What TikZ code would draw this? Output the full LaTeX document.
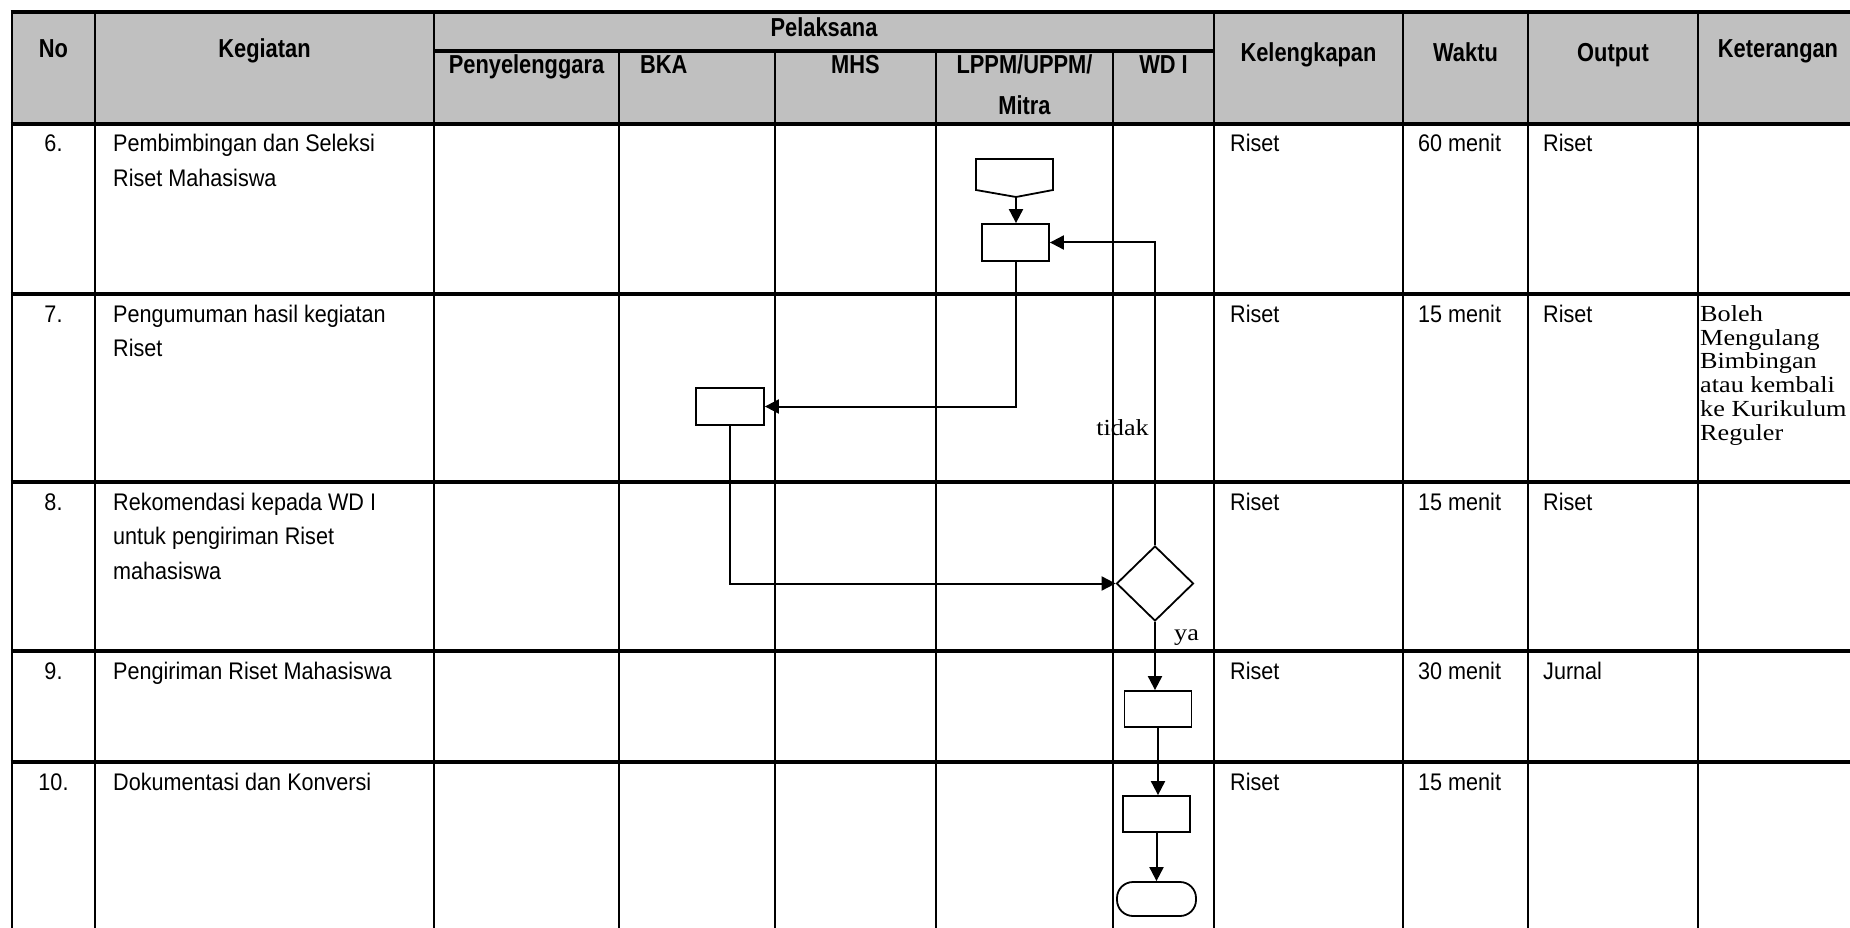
\documentclass[tikz,border=0pt]{standalone}
\usepackage{fontspec}
\setmainfont{Liberation Sans}
\newfontfamily\bodyfont[FakeStretch=0.9]{Liberation Sans}
\newfontfamily\hdrfont[FakeStretch=0.84]{Liberation Sans}
\newfontfamily\seriffont[FakeStretch=1.14]{Liberation Serif}
\usetikzlibrary{arrows.meta,shapes.geometric}
\definecolor{hdrgray}{RGB}{192,192,192}
\begin{document}
\begin{tikzpicture}[x=1pt,y=-1pt,
  hline/.style={line width=3.2pt},
  vline/.style={line width=2.2pt},
  hdr/.style={font=\hdrfont\bfseries\fontsize{26}{30}\selectfont, inner sep=0pt, anchor=base},
  txt/.style={font=\bodyfont\fontsize{24}{30}\selectfont, inner sep=0pt, anchor=base west},
  num/.style={font=\bodyfont\fontsize{24}{30}\selectfont, inner sep=0pt, anchor=base},
  ser/.style={font=\seriffont\fontsize{23}{24}\selectfont, inner sep=0pt},
  box/.style={draw, line width=1.8pt, minimum width=67pt, minimum height=37pt, inner sep=0pt},
  flow/.style={line width=2pt},
  arr/.style={flow, -{Triangle[length=14pt,width=14pt]}},
]
\useasboundingbox (0,0) rectangle (1850,928);
\clip (0,0) rectangle (1850,928);

% header background
\fill[hdrgray] (12,12) rectangle (1860,124);

% grid
\foreach \y in {12,124,294,482,651,762} \draw[hline] (10.5,\y) -- (1860,\y);
\draw[hline] (434,51) -- (1214,51);
\foreach \x in {12,95,434,1214,1403,1528,1698} \draw[vline] (\x,12) -- (\x,930);
\foreach \x in {619,775,936,1113} \draw[vline] (\x,51) -- (\x,930);

% header texts
\node[hdr] (hNo) at (53.5,58) {No};
\node[hdr] (hKeg) at (264.5,58) {Kegiatan};
\node[hdr] (hPel) at (824,37) {Pelaksana};
\node[hdr] (hPen) at (526.5,74) {Penyelenggara};
\node[hdr, anchor=base west] (hBKA) at (640,74) {BKA};
\node[hdr] (hMHS) at (855.5,74) {MHS};
\node[hdr] (hLP1) at (1024.5,74) {LPPM/UPPM/};
\node[hdr] (hLP2) at (1024.5,115) {Mitra};
\node[hdr] (hWD) at (1163.5,74) {WD I};
\node[hdr] (hKel) at (1308.5,62) {Kelengkapan};
\node[hdr] (hWak) at (1465.5,62) {Waktu};
\node[hdr] (hOut) at (1613,62) {Output};
\node[hdr] (hKet) at (1778,58) {Keterangan};

% row 6
\node[num] (n6) at (53.5,152) {6.};
\node[txt] (k6a) at (113,152) {Pembimbingan dan Seleksi};
\node[txt] (k6b) at (113,186.5) {Riset Mahasiswa};
\node[txt] (l6) at (1230,152) {Riset};
\node[txt] (w6) at (1418,152) {60 menit};
\node[txt] (o6) at (1543,152) {Riset};
% row 7
\node[num] (n7) at (53.5,322) {7.};
\node[txt] (k7a) at (113,322) {Pengumuman hasil kegiatan};
\node[txt] (k7b) at (113,356.5) {Riset};
\node[txt] (l7) at (1230,322) {Riset};
\node[txt] (w7) at (1418,322) {15 menit};
\node[txt] (o7) at (1543,322) {Riset};
\node[ser, anchor=base west] (t1) at (1700,321) {Boleh};
\node[ser, anchor=base west] (t2) at (1700,345) {Mengulang};
\node[ser, anchor=base west] (t3) at (1700,368.5) {Bimbingan};
\node[ser, anchor=base west] (t4) at (1700,392) {atau kembali};
\node[ser, anchor=base west] (t5) at (1700,416) {ke Kurikulum};
\node[ser, anchor=base west] (t6) at (1700,440) {Reguler};
% row 8
\node[num] (n8) at (53.5,510) {8.};
\node[txt] (k8a) at (113,510) {Rekomendasi kepada WD I};
\node[txt] (k8b) at (113,544.5) {untuk pengiriman Riset};
\node[txt] (k8c) at (113,579) {mahasiswa};
\node[txt] (l8) at (1230,510) {Riset};
\node[txt] (w8) at (1418,510) {15 menit};
\node[txt] (o8) at (1543,510) {Riset};
% row 9
\node[num] (n9) at (53.5,679) {9.};
\node[txt] (k9) at (113,679) {Pengiriman Riset Mahasiswa};
\node[txt] (l9) at (1230,679) {Riset};
\node[txt] (w9) at (1418,679) {30 menit};
\node[txt] (o9) at (1543,679) {Jurnal};
% row 10
\node[num] (n10) at (53.5,790) {10.};
\node[txt] (k10) at (113,790) {Dokumentasi dan Konversi};
\node[txt] (l10) at (1230,790) {Riset};
\node[txt] (w10) at (1418,790) {15 menit};

% flowchart shapes
\draw[line width=1.8pt, fill=white] (976,159) -- (1053,159) -- (1053,190) -- (1016,197) -- (976,190) -- cycle;
\coordinate (offtip) at (1016,197);
\node[box] (rA) at (1015.5,242.5) {};
\node[box, minimum width=68pt] (rB) at (730,406.5) {};
\node[draw, diamond, line width=1.8pt, minimum width=77pt, minimum height=75pt, inner sep=0pt] (dec) at (1155,583.5) {};
\node[box, minimum height=36pt] (rC) at (1158,709) {};
\node[box, minimum height=36pt] (rD) at (1156.5,814) {};
\node[draw, line width=1.8pt, rounded corners=16pt, minimum width=79pt, minimum height=34pt, inner sep=0pt] (term) at (1156.5,899) {};

% connectors
\draw[arr] (offtip) -- (offtip |- rA.north);
\draw[arr] (rA.south) |- (rB.east);
\draw[arr] (rB.south) |- (dec.west);
\draw[arr] (dec.north) |- (rA.east);
\draw[arr] (dec.south) -- (dec.south |- rC.north);
\draw[arr] (rC.south) -- (rC.south |- rD.north);
\draw[arr] (rD.south) -- (rD.south |- term.north);

\node[ser, anchor=base east] (tidak) at (1149,435) {tidak};
\node[ser, anchor=base west] (ya) at (1174,640) {ya};
\end{tikzpicture}
\end{document}
